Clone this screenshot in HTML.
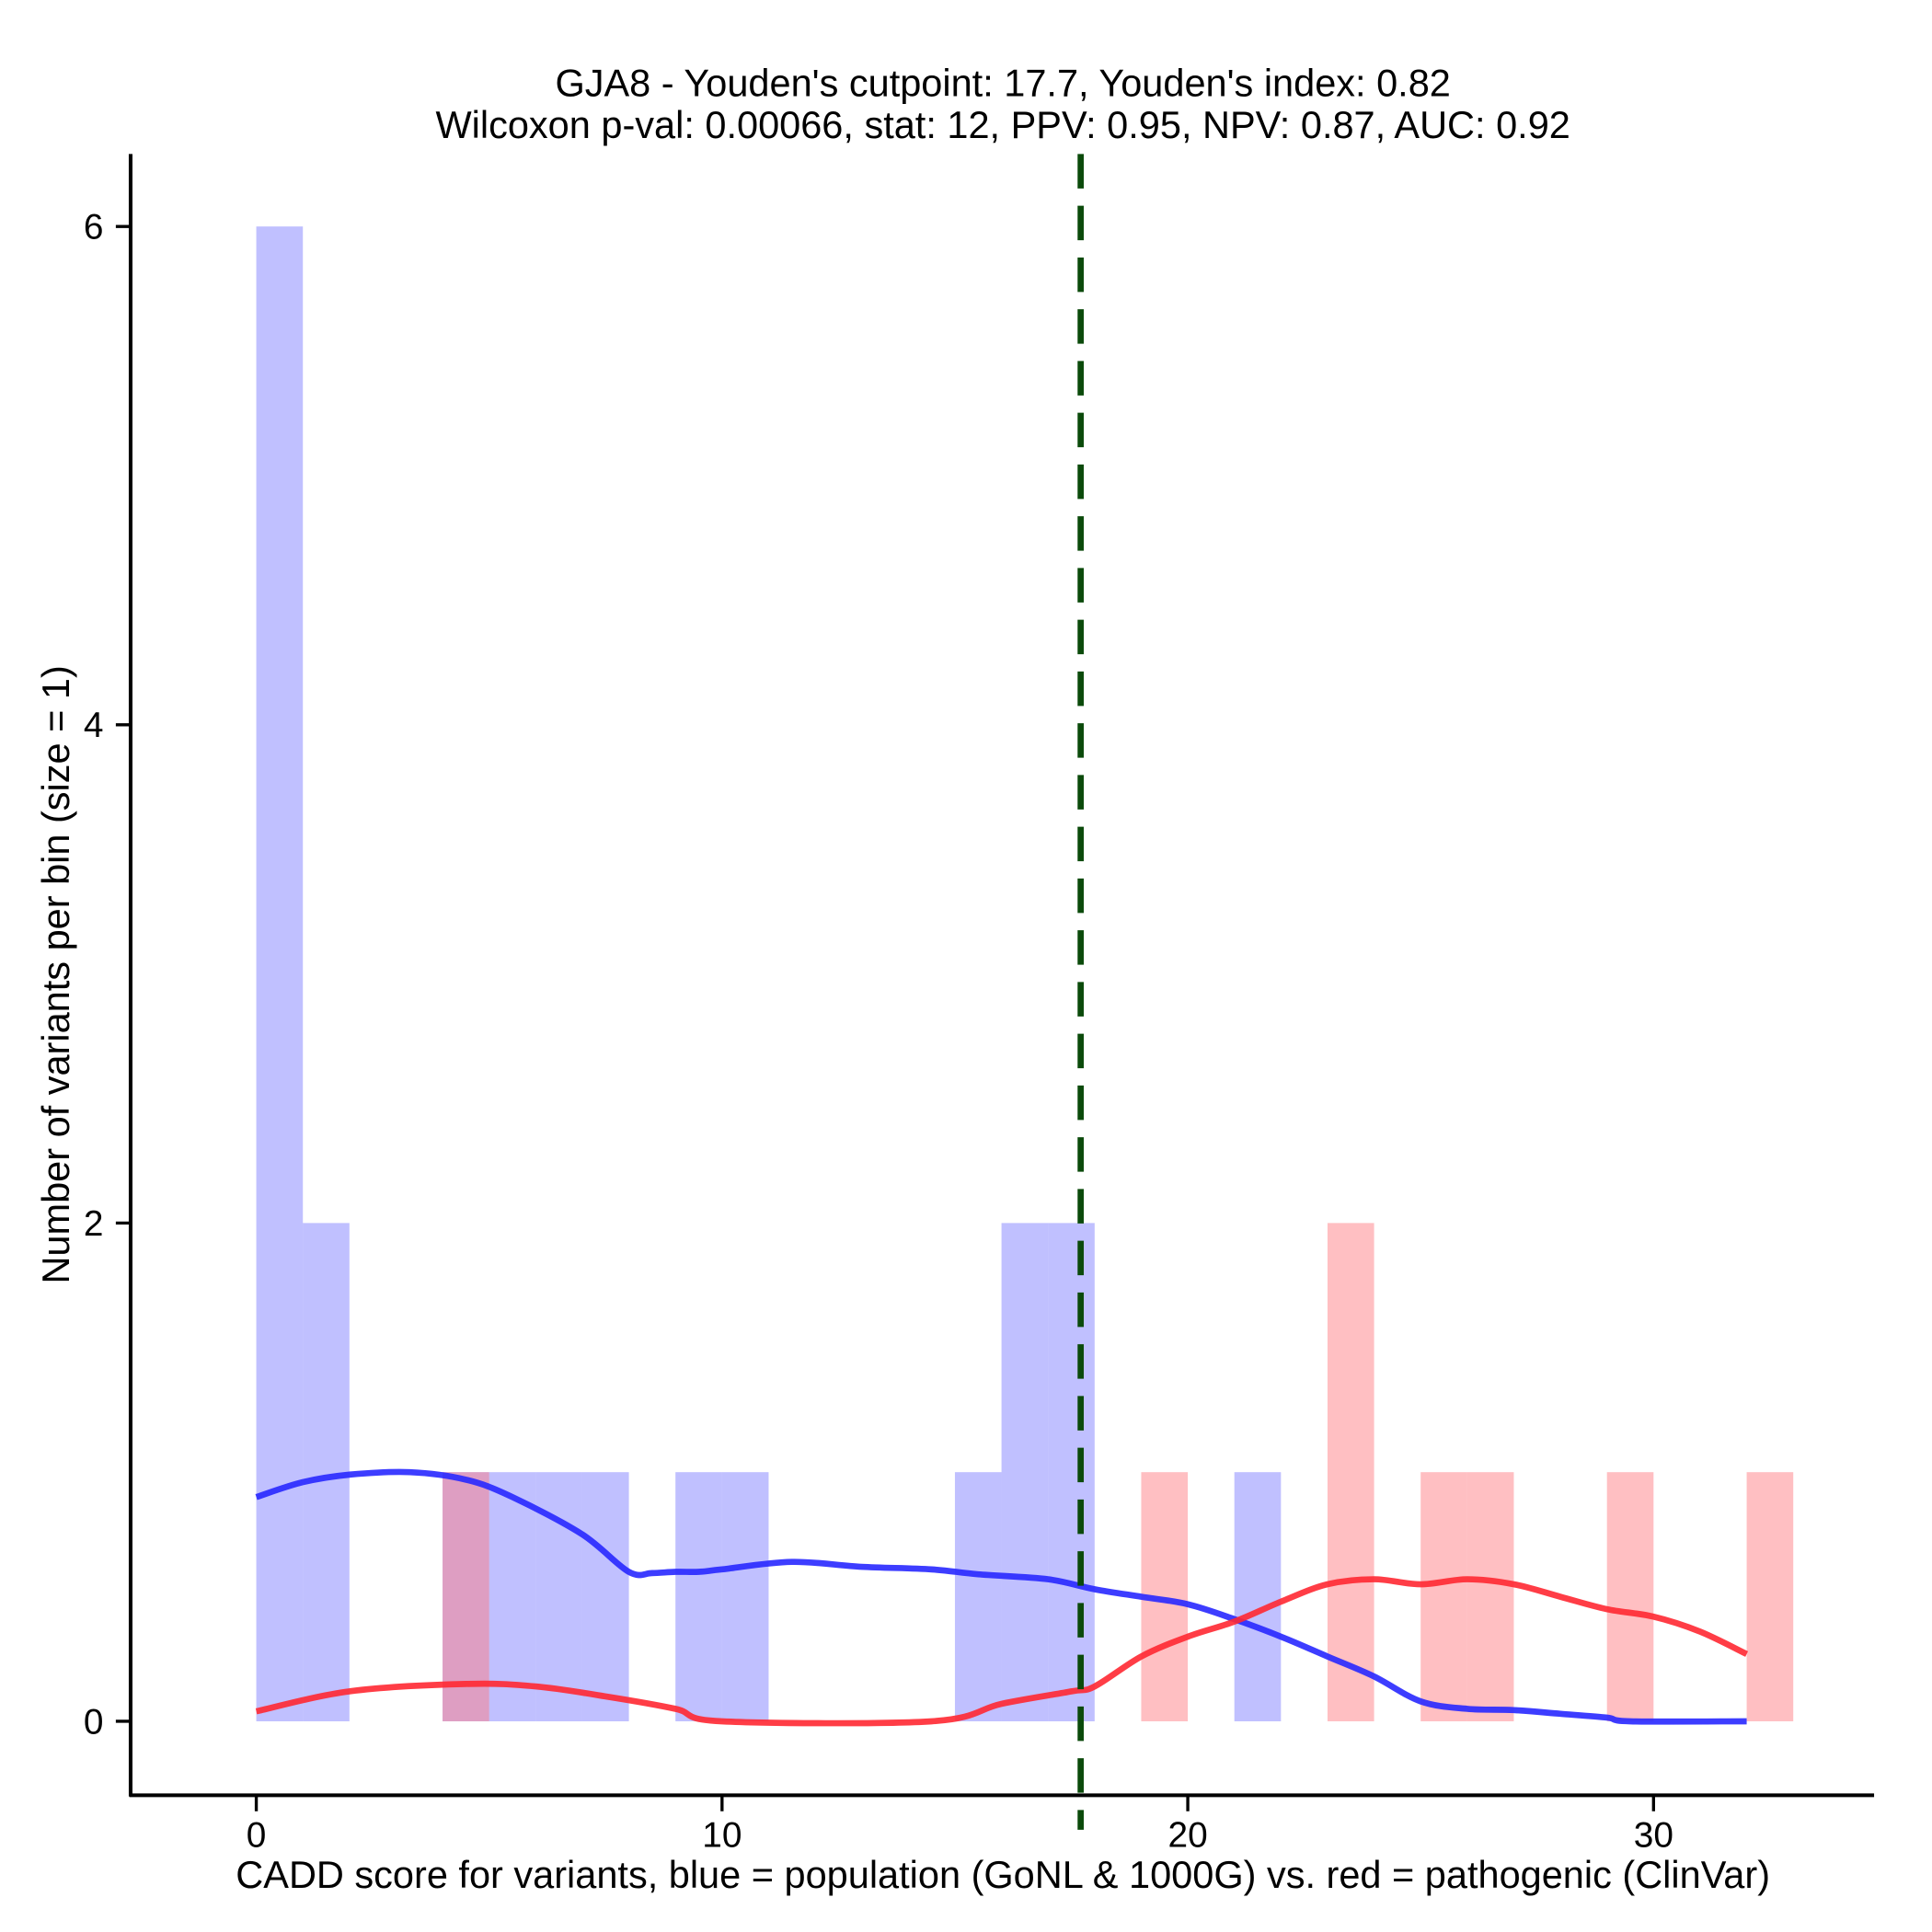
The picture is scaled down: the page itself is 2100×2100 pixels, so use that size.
<!DOCTYPE html>
<html><head><meta charset="utf-8"><style>
html,body{margin:0;padding:0;background:#fff}
svg{display:block}
text{font-family:"Liberation Sans",Arial,sans-serif;fill:#000}
</style></head><body>
<svg id="chart" width="2100" height="2100" viewBox="0 0 1568 1568" xmlns="http://www.w3.org/2000/svg">
<rect width="1568" height="1568" fill="#fff"/>
<g id="bars"></g>
<g id="curves"></g>
<line x1="877" y1="125" x2="877" y2="1485" stroke="#0b4a0b" stroke-width="5" stroke-dasharray="28,14" id="cut"/>
<g id="axes"></g>
<text x="814" y="78" font-size="31" text-anchor="middle">GJA8 - Youden's cutpoint: 17.7, Youden's index: 0.82</text>
<text x="814" y="112" font-size="31" text-anchor="middle">Wilcoxon p-val: 0.00066, stat: 12, PPV: 0.95, NPV: 0.87, AUC: 0.92</text>
<text x="814" y="1532" font-size="31" text-anchor="middle">CADD score for variants, blue = population (GoNL &amp; 1000G) vs. red = pathogenic (ClinVar)</text>
<text x="0" y="0" font-size="31" text-anchor="middle" transform="translate(56,791) rotate(-90)">Number of variants per bin (size = 1)</text>
</svg>
<script>
const blueBinStarts=[0,1,4,5,6,7,9,10,15,16,17,21];
const blueCounts=[6,2,1,1,1,1,1,1,1,2,2,1];
const redBinStarts=[4,19,23,25,26,29,32];
const redCounts=[1,1,2,1,1,1,1];
const blueDensX=[0,1,2,3.3,4.5,5.5,7,8,8.5,9,9.5,10,11.5,13,14.5,15.5,17,18,19,20,21,22,23,24,25,26,27,28,29,29.5,32];
const blueDensY=[0.9,0.96,0.99,1.0,0.97,0.9,0.75,0.6,0.595,0.6,0.6,0.61,0.64,0.62,0.61,0.59,0.57,0.53,0.5,0.47,0.41,0.34,0.26,0.18,0.08,0.05,0.045,0.03,0.015,0,0];
const redDensX=[0,2,4.5,6,7.5,9,10,14.5,16,17.5,18,19,20,21,22,23,24,25,26,27,28,29,30,31,32];
const redDensY=[0.04,0.12,0.15,0.14,0.1,0.05,0,0,0.07,0.12,0.14,0.26,0.34,0.4,0.48,0.55,0.57,0.55,0.57,0.55,0.5,0.45,0.42,0.36,0.27];
const xTicks=[0,10,20,30];
const yTicks=[0,2,4,6];
const cutpoint=17.7;
const NS='http://www.w3.org/2000/svg';
const sx=v=>208+v*37.8;
const sy=v=>1397-v*202.2;
function mk(tag,attrs,parent){const e=document.createElementNS(NS,tag);for(const k in attrs)e.setAttribute(k,attrs[k]);parent.appendChild(e);return e;}
const bars=document.getElementById('bars');
blueBinStarts.forEach((s,i)=>{const r=mk('rect',{x:sx(s),y:sy(blueCounts[i]),width:sx(s+1)-sx(s),height:sy(0)-sy(blueCounts[i]),fill:'rgba(130,130,255,0.5)'},bars);

});
redBinStarts.forEach((s,i)=>{const r=mk('rect',{x:sx(s),y:sy(redCounts[i]),width:sx(s+1)-sx(s),height:sy(0)-sy(redCounts[i]),fill:'rgba(255,120,125,0.47)'},bars);

});
const curves=document.getElementById('curves');
function line(xs,ys,color,name){
const P=xs.map((x,i)=>[sx(x),sy(ys[i])]);
let d='M'+P[0][0].toFixed(1)+','+P[0][1].toFixed(1);
for(let i=0;i<P.length-1;i++){const p0=P[i-1]||P[i],p1=P[i],p2=P[i+1],p3=P[i+2]||P[i+1];
const c1=[p1[0]+(p2[0]-p0[0])/6,p1[1]+(p2[1]-p0[1])/6],c2=[p2[0]-(p3[0]-p1[0])/6,p2[1]-(p3[1]-p1[1])/6];
d+=' C'+c1[0].toFixed(1)+','+c1[1].toFixed(1)+' '+c2[0].toFixed(1)+','+c2[1].toFixed(1)+' '+p2[0].toFixed(1)+','+p2[1].toFixed(1);}
const p=mk('path',{d:d,fill:'none',stroke:color,'stroke-width':5,'stroke-linejoin':'round'},curves);

}
line(blueDensX,blueDensY,'rgba(40,40,255,0.9)','blue-density-curve');
line(redDensX,redDensY,'rgba(255,40,50,0.9)','red-density-curve');
const cut=document.getElementById('cut');cut.setAttribute('x1',sx(cutpoint));cut.setAttribute('x2',sx(cutpoint));
const axes=document.getElementById('axes');
const yl=mk('line',{x1:106,y1:125,x2:106,y2:1458,stroke:'#000','stroke-width':3},axes);


const xl=mk('line',{x1:105,y1:1457,x2:1521,y2:1457,stroke:'#000','stroke-width':3},axes);


xTicks.forEach(t=>{const l=mk('line',{x1:sx(t),y1:1457,x2:sx(t),y2:1470,stroke:'#000','stroke-width':2.5},axes);


const tx=mk('text',{x:sx(t),y:1499,'font-size':29,'text-anchor':'middle'},axes);tx.textContent=t;

});
yTicks.forEach(t=>{const l=mk('line',{x1:94,y1:sy(t),x2:106,y2:sy(t),stroke:'#000','stroke-width':2.5},axes);


const tx=mk('text',{x:84,y:sy(t)+10,'font-size':29,'text-anchor':'end'},axes);tx.textContent=t;

});
</script>
</body></html>
